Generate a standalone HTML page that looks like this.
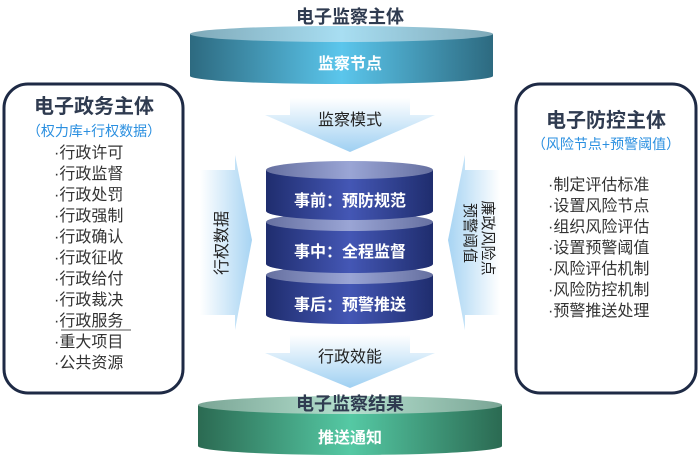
<!DOCTYPE html>
<html><head><meta charset="utf-8"><style>
html,body{margin:0;padding:0;background:#fff;}
svg{display:block;font-family:"Liberation Sans","Noto Sans CJK SC",sans-serif;}
</style></head><body>
<svg width="700" height="458" viewBox="0 0 700 458">
<defs>
<linearGradient id="tb" x1="0" x2="1"><stop offset="0" stop-color="#2d6a80"/><stop offset="0.5" stop-color="#5bc6ec"/><stop offset="1" stop-color="#2d6a80"/></linearGradient>
<linearGradient id="tt" x1="0" x2="1"><stop offset="0" stop-color="#7fa9b8"/><stop offset="0.5" stop-color="#a8def2"/><stop offset="1" stop-color="#7fa9b8"/></linearGradient>
<linearGradient id="gb" x1="0" x2="1"><stop offset="0" stop-color="#2b6a52"/><stop offset="0.5" stop-color="#55c9a4"/><stop offset="1" stop-color="#2b6a52"/></linearGradient>
<linearGradient id="gt" x1="0" x2="1"><stop offset="0" stop-color="#7aa595"/><stop offset="0.5" stop-color="#b5e0cf"/><stop offset="1" stop-color="#7aa595"/></linearGradient>
<linearGradient id="bb" x1="0" x2="1"><stop offset="0" stop-color="#1f2d6e"/><stop offset="0.5" stop-color="#4457b5"/><stop offset="1" stop-color="#1f2d6e"/></linearGradient>
<linearGradient id="bt" x1="0" x2="1"><stop offset="0" stop-color="#6670a0"/><stop offset="0.5" stop-color="#9aa5d5"/><stop offset="1" stop-color="#6670a0"/></linearGradient>
<linearGradient id="ad" x1="0" y1="0" x2="0" y2="1"><stop offset="0" stop-color="#ffffff"/><stop offset="1" stop-color="#9fd0f2"/></linearGradient>
<linearGradient id="ar" x1="0" x2="1"><stop offset="0" stop-color="#ffffff"/><stop offset="1" stop-color="#a7d4f3"/></linearGradient>
<linearGradient id="al" x1="1" x2="0"><stop offset="0" stop-color="#ffffff"/><stop offset="1" stop-color="#a7d4f3"/></linearGradient>
</defs>

<path d="M190 34 L190 76 A151.5 8 0 0 0 493 76 L493 34 Z" fill="url(#tb)"/>
<ellipse cx="341.5" cy="34" rx="151.5" ry="8" fill="url(#tt)"/>
<text x="350" y="23" text-anchor="middle" font-size="18" font-weight="bold" fill="#2f3b50">电子监察主体</text>
<text x="350" y="69" text-anchor="middle" font-size="16" font-weight="bold" fill="#fff">监察节点</text>

<path d="M290 98 L410 98 L410 115 L435 115 L350 152 L265 115 L290 115 Z" fill="url(#ad)"/>
<text x="350" y="125" text-anchor="middle" font-size="16" fill="#222">监察模式</text>

<path d="M200 170 L235 170 L235 155 L252 240 L235 330 L235 315 L200 315 Z" fill="url(#ar)"/>
<text font-size="16" fill="#222" transform="translate(227,243) rotate(-90)" text-anchor="middle">行权数据</text>

<path d="M500 170 L465 170 L465 155 L448 240 L465 330 L465 315 L500 315 Z" fill="url(#al)"/>
<text font-size="15" fill="#222" transform="translate(483,238) rotate(90)" text-anchor="middle">廉政风险点</text>
<text font-size="15" fill="#222" transform="translate(465,233) rotate(90)" text-anchor="middle">预警阈值</text>

<path d="M290 335 L410 335 L410 353 L435 353 L350 388 L265 353 L290 353 Z" fill="url(#ad)"/>
<text x="350" y="362" text-anchor="middle" font-size="16" fill="#222">行政效能</text>

<g>
<path d="M266 275 L266 315 A83.5 9 0 0 0 433 315 L433 275 Z" fill="url(#bb)"/>
<ellipse cx="349.5" cy="275" rx="83.5" ry="9" fill="url(#bt)"/>
<path d="M266 222 L266 264 A83.5 9 0 0 0 433 264 L433 222 Z" fill="url(#bb)"/>
<ellipse cx="349.5" cy="222" rx="83.5" ry="9" fill="url(#bt)"/>
<path d="M266 170 L266 211 A83.5 9 0 0 0 433 211 L433 170 Z" fill="url(#bb)"/>
<ellipse cx="349.5" cy="170" rx="83.5" ry="9" fill="url(#bt)"/>
<text x="350" y="206" text-anchor="middle" font-size="16" font-weight="bold" fill="#fff">事前：预防规范</text>
<text x="350" y="257" text-anchor="middle" font-size="16" font-weight="bold" fill="#fff">事中：全程监督</text>
<text x="350" y="310" text-anchor="middle" font-size="16" font-weight="bold" fill="#fff">事后：预警推送</text>
</g>

<path d="M198 405 L198 446 A152 9 0 0 0 502 446 L502 405 Z" fill="url(#gb)"/>
<ellipse cx="350" cy="405" rx="152" ry="9" fill="url(#gt)"/>
<text x="350" y="410" text-anchor="middle" font-size="18" font-weight="bold" fill="#2f3b50">电子监察结果</text>
<text x="350" y="443" text-anchor="middle" font-size="16" font-weight="bold" fill="#fff">推送通知</text>

<rect x="4" y="84" width="179" height="309" rx="24" fill="#fff" stroke="#1e2a45" stroke-width="3"/>
<text x="94" y="113" text-anchor="middle" font-size="20" font-weight="bold" fill="#2f3b50">电子政务主体</text>
<text x="94" y="136" text-anchor="middle" font-size="14" fill="#2a8fe0">（权力库+行权数据）</text>
<g font-size="16" fill="#333" text-anchor="start">
<text x="54" y="158">·行政许可</text>
<text x="54" y="179">·行政监督</text>
<text x="54" y="200">·行政处罚</text>
<text x="54" y="221">·行政强制</text>
<text x="54" y="242">·行政确认</text>
<text x="54" y="263">·行政征收</text>
<text x="54" y="284">·行政给付</text>
<text x="54" y="305">·行政裁决</text>
<text x="54" y="326">·行政服务</text>
<text x="54" y="347">·重大项目</text>
<text x="54" y="368">·公共资源</text>
</g>
<line x1="61" y1="330" x2="131" y2="330" stroke="#555" stroke-width="1"/>

<rect x="516" y="84" width="180" height="309" rx="24" fill="#fff" stroke="#1e2a45" stroke-width="3"/>
<text x="606" y="127" text-anchor="middle" font-size="20" font-weight="bold" fill="#2f3b50">电子防控主体</text>
<text x="606" y="149" text-anchor="middle" font-size="14" fill="#2a8fe0">（风险节点+预警阈值）</text>
<g font-size="16" fill="#333">
<text x="548" y="190">·制定评估标准</text>
<text x="548" y="211">·设置风险节点</text>
<text x="548" y="232">·组织风险评估</text>
<text x="548" y="253">·设置预警阈值</text>
<text x="548" y="274">·风险评估机制</text>
<text x="548" y="295">·风险防控机制</text>
<text x="548" y="316">·预警推送处理</text>
</g>
</svg>
</body></html>
